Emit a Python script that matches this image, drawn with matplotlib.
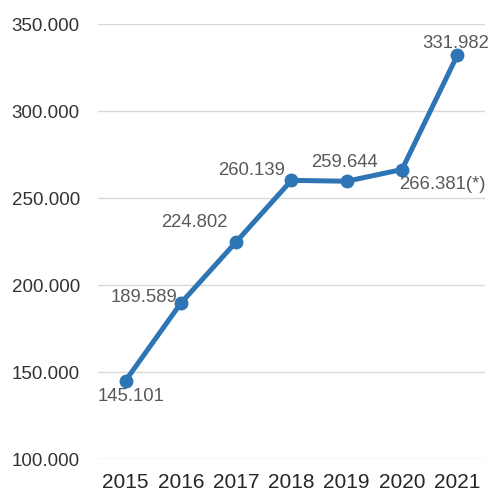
import matplotlib
matplotlib.use("Agg")
import matplotlib.pyplot as plt

years = ["2015", "2016", "2017", "2018", "2019", "2020", "2021"]
values = [145.101, 189.589, 224.802, 260.139, 259.644, 266.381, 331.982]
labels = ["145.101", "189.589", "224.802", "260.139", "259.644", "266.381(*)", "331.982"]
yticks = [100, 150, 200, 250, 300, 350]
ytick_labels = ["100.000", "150.000", "200.000", "250.000", "300.000", "350.000"]

# label offsets in pixels (dx, dy) and alignment
offsets = [(5, -16, "center"), (-4, 6, "right"), (-42, 19, "center"), (-40, 10, "center"),
           (-2, 19, "center"), (-3, -15, "left"), (-2, 12, "center")]

plt.rcParams["font.family"] = ["Liberation Sans", "DejaVu Sans"]

fig = plt.figure(figsize=(4.91, 4.95), dpi=100)
ax = fig.add_axes([0.1996, 0.0727, 0.788, 0.8788])

x = list(range(len(years)))
ax.plot(x, values, color="#2E75B6", lw=3.6, marker="o", ms=9, solid_capstyle="round")

for xi, v, lab, (dx, dy, ha) in zip(x, values, labels, offsets):
    ax.annotate(lab, (xi, v), xytext=(dx, dy), textcoords="offset pixels",
                ha=ha, va="center", fontsize=13.3, color="#595959")

ax.set_xlim(-0.5, 6.5)
ax.set_ylim(100, 350)
ax.set_yticks(yticks)
ax.set_yticklabels(ytick_labels, fontsize=13.5, color="#333333")
ax.set_xticks(x)
ax.set_xticklabels(years, fontsize=15, color="#262626")
ax.tick_params(length=0, pad=10)
ax.tick_params(axis="y", pad=13)
ax.grid(axis="y", color="#d9d9d9", lw=1)
ax.set_axisbelow(True)
for s in ax.spines.values():
    s.set_visible(False)

fig.savefig("out.png", dpi=100)
